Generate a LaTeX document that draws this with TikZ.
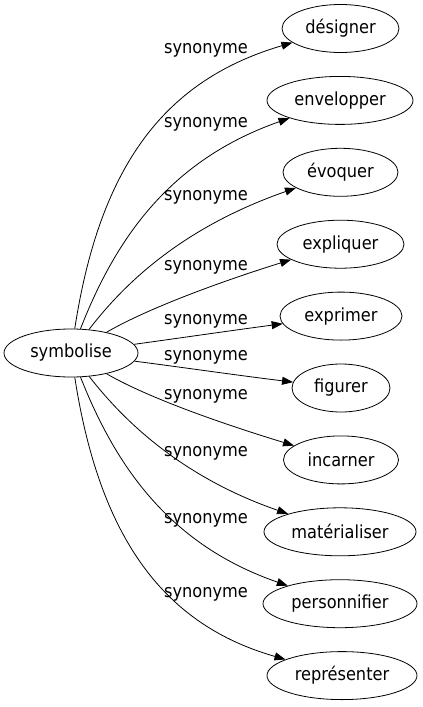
\documentclass[tikz,border=0pt]{standalone}
\usepackage{fontspec}
\setmainfont{DejaVu Sans}[FakeStretch=0.9]
\usetikzlibrary{shapes.geometric,arrows.meta}
\begin{document}
\begin{tikzpicture}[x=1pt,y=-1pt,
  word/.style={draw, ellipse, inner sep=0pt, minimum height=48pt, line width=0.8pt, font=\fontsize{18}{20}\selectfont},
  lbl/.style={inner sep=0pt, font=\fontsize{18}{20}\selectfont},
  syn/.style={-{Triangle[length=11pt,width=8pt]}, line width=0.8pt}]
\useasboundingbox (0,0) rectangle (423,707);
\node[word, minimum width=134pt] (s) at (71,353) {symbolise};
\node[word, minimum width=117pt] (t1) at (340.5,28.5) {désigner};
\node[word, minimum width=146pt] (t2) at (340,100.4) {envelopper};
\node[word, minimum width=115pt] (t3) at (340.5,172.3) {évoquer};
\node[word, minimum width=127pt] (t4) at (340.5,244.2) {expliquer};
\node[word, minimum width=122pt] (t5) at (341,316.1) {exprimer};
\node[word, minimum width=98pt] (t6) at (341,388) {figurer};
\node[word, minimum width=115pt] (t7) at (341,459.9) {incarner};
\node[word, minimum width=152pt] (t8) at (340,531.8) {matérialiser};
\node[word, minimum width=154pt] (t9) at (340,603.7) {personnifier};
\node[word, minimum width=150pt] (t10) at (342,675.6) {représenter};

\draw[syn] (s) .. controls (100,165) and (165,80) .. (t1);
\draw[syn] (s) .. controls (116,238) and (170,160) .. (t2);
\draw[syn] (s) .. controls (130,276) and (190,225) .. (t3);
\draw[syn] (s) .. controls (143,311) and (210,285) .. (t4);
\draw[syn] (s) .. controls (180,338) and (235,330) .. (t5);
\draw[syn] (s) .. controls (180,367) and (235,375) .. (t6);
\draw[syn] (s) .. controls (143,395) and (210,420) .. (t7);
\draw[syn] (s) .. controls (130,429) and (190,480) .. (t8);
\draw[syn] (s) .. controls (116,467) and (170,545) .. (t9);
\draw[syn] (s) .. controls (100,540) and (165,625) .. (t10);

\node[lbl] (l1) at (206,50) {synonyme};
\node[lbl] (l2) at (206,124) {synonyme};
\node[lbl] (l3) at (206,197) {synonyme};
\node[lbl] (l4) at (206,267) {synonyme};
\node[lbl] (l5) at (206,321) {synonyme};
\node[lbl] (l6) at (206,357) {synonyme};
\node[lbl] (l7) at (206,396) {synonyme};
\node[lbl] (l8) at (206,453) {synonyme};
\node[lbl] (l9) at (206,520) {synonyme};
\node[lbl] (l10) at (206,594) {synonyme};
\end{tikzpicture}
\end{document}
